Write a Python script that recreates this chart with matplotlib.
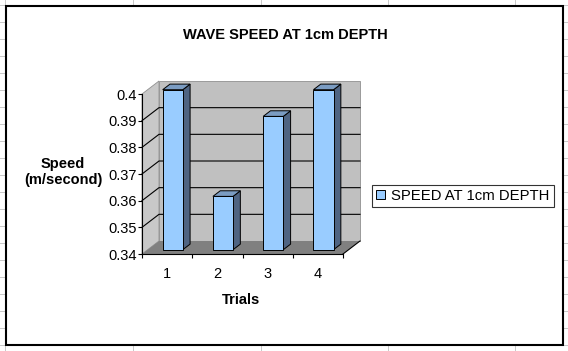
import matplotlib
matplotlib.use("Agg")
import matplotlib.pyplot as plt
from matplotlib.patches import Polygon, Rectangle
from matplotlib.lines import Line2D
from matplotlib.transforms import IdentityTransform, ScaledTranslation

# ---------------- data ----------------
trials = ["1", "2", "3", "4"]
speeds = [0.40, 0.36, 0.39, 0.40]
y_ticks = [0.34, 0.35, 0.36, 0.37, 0.38, 0.39, 0.40]
y_tick_labels = ["0.34", "0.35", "0.36", "0.37", "0.38", "0.39", "0.4"]
y_min, y_max = 0.34, 0.40
title = "WAVE SPEED AT 1cm DEPTH"
x_title = "Trials"
y_title = "Speed\n(m/second)"
legend_label = "SPEED AT 1cm DEPTH"

# ---------------- style ----------------
plt.rcParams['font.family'] = ['Liberation Sans', 'DejaVu Sans']
W, H = 568, 351
DPI = 100
FRONT = "#99CCFF"
SIDE = "#4F6482"
TOP = "#7B9CC2"
BACKWALL = "#C0C0C0"
LEFTWALL = "#C8C8C8"
FLOOR = "#808080"
DX, DY = 17, 13          # depth offset of the 3-D box, in pixels
F0, F1 = 0.33, 0.76      # front/back depth fractions of the bars
BAR_W = 0.4

fig = plt.figure(figsize=(W / DPI, H / DPI), dpi=DPI)
fig.patch.set_facecolor("white")

# ---- spreadsheet background + chart area frame (pixel coords) ----
bg = fig.add_axes([0, 0, 1, 1])
bg.set_xlim(0, W)
bg.set_ylim(H, 0)
bg.axis("off")
for gx in [5, 133, 261, 388, 515]:
    bg.plot([gx, gx], [0, H], color="#C8C8C8", lw=0.7)
gy = 5
while gy <= H:
    bg.plot([0, W], [gy, gy], color="#C8C8C8", lw=0.7)
    gy += 17
bg.add_patch(Rectangle((6, 6), 557, 339, facecolor="white",
                       edgecolor="black", lw=1.5, zorder=3))

# ---------------- main axes (front plane of the 3-D box) ----------------
L, R, T, B = 142, 343, 94, 254
ax = fig.add_axes([L / W, 1 - B / H, (R - L) / W, (B - T) / H])
ax.patch.set_alpha(0)
ax.set_xlim(0.5, len(trials) + 0.5)
ax.set_ylim(y_min, y_max)
for s in ["top", "right"]:
    ax.spines[s].set_visible(False)
for s in ["left", "bottom"]:
    ax.spines[s].set_color("black")
    ax.spines[s].set_linewidth(0.8)
    ax.spines[s].set_zorder(6)

ax.set_yticks(y_ticks)
ax.set_yticklabels(y_tick_labels, fontsize=10.5)
ax.tick_params(axis="y", direction="out", length=3, width=0.8, pad=0.5)
xs = list(range(1, len(trials) + 1))
ax.set_xticks([x - 0.5 for x in xs] + [xs[-1] + 0.5])
ax.set_xticklabels([])
ax.set_xticks(xs, minor=True)
ax.set_xticklabels(trials, minor=True, fontsize=10.5)
ax.tick_params(axis="x", which="major", direction="out", length=3, width=0.8)
ax.tick_params(axis="x", which="minor", length=0, pad=9)

fig.canvas.draw()


def pt(x, y, f):
    X, Y = ax.transData.transform((x, y))
    return (X + f * DX, Y + f * DY)


def poly(points, fc, ec, lw, z):
    p = Polygon(points, closed=True, facecolor=fc, edgecolor=ec, lw=lw,
                transform=IdentityTransform(), zorder=z, clip_on=False)
    ax.add_patch(p)


x0, x1 = 0.5, len(trials) + 0.5
# walls and floor
poly([pt(x0, y_min, 0), pt(x0, y_min, 1), pt(x0, y_max, 1), pt(x0, y_max, 0)],
     LEFTWALL, "#909090", 0.6, 1)
poly([pt(x0, y_min, 1), pt(x1, y_min, 1), pt(x1, y_max, 1), pt(x0, y_max, 1)],
     BACKWALL, "#909090", 0.6, 1)
poly([pt(x0, y_min, 0), pt(x1, y_min, 0), pt(x1, y_min, 1), pt(x0, y_min, 1)],
     FLOOR, "none", 0, 1.5)
# gridlines
for yv in y_ticks[1:-1]:
    a, b, c = pt(x0, yv, 0), pt(x0, yv, 1), pt(x1, yv, 1)
    ax.add_line(Line2D([a[0], b[0], c[0]], [a[1], b[1], c[1]], color="black",
                       lw=0.8, transform=IdentityTransform(), zorder=2,
                       clip_on=False))
a, b = pt(x1, y_min, 0), pt(x1, y_min, 1)
ax.add_line(Line2D([a[0], b[0]], [a[1], b[1]], color="black", lw=0.8,
                   transform=IdentityTransform(), zorder=6, clip_on=False))

# bars: front faces through ax.bar, shifted into the depth
shift = ax.transData + ScaledTranslation(F0 * DX / DPI, F0 * DY / DPI,
                                         fig.dpi_scale_trans)
heights = [v - y_min for v in speeds]
bars = ax.bar(xs, heights, bottom=y_min, width=BAR_W, color=FRONT,
              edgecolor="black", linewidth=0.7, transform=shift, zorder=5,
              clip_on=False, label=legend_label)
for x, v in zip(xs, speeds):
    h = BAR_W / 2
    poly([pt(x + h, y_min, F0), pt(x + h, y_min, F1), pt(x + h, v, F1),
          pt(x + h, v, F0)], SIDE, "black", 0.7, 4)
    poly([pt(x - h, v, F0), pt(x + h, v, F0), pt(x + h, v, F1),
          pt(x - h, v, F1)], TOP, "black", 0.7, 4)

ax.set_xlim(x0, x1)
ax.set_ylim(y_min, y_max)

# ---------------- texts ----------------
fig.text(285 / W, 1 - 35 / H, title, ha="center", va="center",
         fontsize=10.5, fontweight="bold")
fig.text(241 / W, 1 - 300 / H, x_title, ha="center", va="center",
         fontsize=10.5, fontweight="bold")
fig.text(63 / W, 1 - 172 / H, y_title, ha="center", va="center",
         fontsize=10.5, fontweight="bold", linespacing=1.2)

leg = ax.legend(handles=[bars], labels=[legend_label], loc="center left",
                bbox_to_anchor=(372 / W, 1 - 196 / H),
                bbox_transform=fig.transFigure, fontsize=10.7,
                frameon=True, fancybox=False, shadow=False,
                borderpad=0.3, borderaxespad=0, handlelength=0.6,
                handleheight=0.6, handletextpad=0.4)
leg.get_frame().set_edgecolor("black")
leg.get_frame().set_linewidth(0.8)

fig.savefig("out.png", dpi=DPI, facecolor="white")
